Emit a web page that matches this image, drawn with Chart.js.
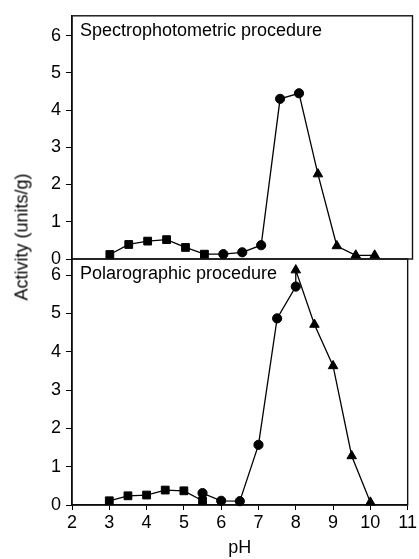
<!DOCTYPE html>
<html lang="en">
<head>
<meta charset="UTF-8">
<title>Activity vs pH</title>
<script src="https://cdn.jsdelivr.net/npm/chart.js"></script>
<style>
  body { margin: 0; background: #fff; }
  #wrap { position: relative; width: 419px; height: 559px; }
  .panel { position: absolute; left: 0; width: 419px; }
  #topPanel { top: 0; height: 285px; }
  #bottomPanel { top: 235px; height: 324px; }
  #ytitle {
    position: absolute; left: 22px; top: 237px;
    transform: translate(-50%, -50%) rotate(-90deg);
    font: 18px "Liberation Sans", Arial, sans-serif; white-space: nowrap; color: #000;
  }
</style>
</head>
<body>
<div id="wrap">
  <div class="panel" id="topPanel"><canvas id="topChart"></canvas></div>
  <div class="panel" id="bottomPanel"><canvas id="bottomChart"></canvas></div>
  <div id="ytitle">Activity (units/g)</div>
</div>

<script>
// spectrophotometric procedure
const specSqPh = [3, 3.5, 4, 4.5, 5, 5.5];
const specSqAct = [0.12, 0.39, 0.48, 0.52, 0.31, 0.13];
const specCirPh = [6, 6.5, 7, 7.5, 8];
const specCirAct = [0.13, 0.18, 0.37, 4.30, 4.45];
const specTriPh = [8.5, 9, 9.5, 10];
const specTriAct = [2.28, 0.35, 0.10, 0.10];

// polarographic procedure
const polSqPh = [3, 3.5, 4, 4.5, 5, 5.5];
const polSqAct = [0.11, 0.24, 0.26, 0.39, 0.37, 0.11];
const polCirPh = [5.5, 6, 6.5, 7, 7.5, 8];
const polCirAct = [0.31, 0.11, 0.10, 1.57, 4.87, 5.70];
const polTriPh = [8, 8.5, 9, 9.5, 10];
const polTriAct = [6.13, 4.71, 3.63, 1.28, 0.07];

const phMin = 2, phMax = 11;

Chart.defaults.font.family = '"Liberation Sans", Arial, sans-serif';
Chart.defaults.font.size = 18;
Chart.defaults.color = '#000';

function pts(xs, ys) {
  return xs.map((x, i) => ({ x: x, y: ys[i] }));
}

// box round the plot + the procedure name inside it
const framePlugin = {
  id: 'frame',
  beforeDatasetsDraw(chart) {
    const a = chart.chartArea, ctx = chart.ctx;
    ctx.save();
    ctx.strokeStyle = '#111';
    ctx.lineWidth = 1.4;
    ctx.strokeRect(a.left, a.top, a.right - a.left, a.bottom - a.top);
    ctx.fillStyle = '#000';
    ctx.font = '18px "Liberation Sans", Arial, sans-serif';
    ctx.textBaseline = 'alphabetic';
    ctx.fillText(chart.options.plugins.frame.text, a.left + 8, a.top + 20);
    ctx.restore();
  }
};

function makePanel(id, label, sq, cir, tri, yMax, pad, showX) {
  const marker = { borderColor: '#000', backgroundColor: '#000', showLine: false, clip: false };
  const config = {
    type: 'scatter',
    data: {
      datasets: [
        Object.assign({ data: pts(sq[0], sq[1]), pointStyle: 'rect', pointRadius: 5.5 }, marker),
        Object.assign({ data: pts(cir[0], cir[1]), pointStyle: 'circle', pointRadius: 4.6 }, marker),
        Object.assign({ data: pts(tri[0], tri[1]), pointStyle: 'triangle', pointRadius: 5.5 }, marker),
        {
          data: pts(sq[0], sq[1]).concat(pts(cir[0], cir[1]), pts(tri[0], tri[1])),
          showLine: true, borderColor: '#000', borderWidth: 1.3, pointRadius: 0, clip: false
        }
      ]
    },
    options: {
      responsive: true,
      maintainAspectRatio: false,
      animation: false,
      layout: { padding: pad },
      plugins: { legend: { display: false }, tooltip: { enabled: false }, frame: { text: label } },
      scales: {
        x: {
          type: 'linear', min: phMin, max: phMax, display: showX,
          ticks: { stepSize: 1, padding: 2, maxRotation: 0 },
          grid: { drawOnChartArea: false, tickLength: 5, color: '#000' },
          border: { color: '#000', width: 1.4 },
          title: { display: true, text: 'pH', padding: { top: 4, bottom: 0 } },
          afterFit: s => { s.height = showX ? 54 : 0; }
        },
        y: {
          min: 0, max: yMax,
          ticks: { stepSize: 1, padding: 5, includeBounds: false },
          grid: { drawOnChartArea: false, tickLength: 6, color: '#000' },
          border: { color: '#000', width: 1.4 },
          afterFit: s => { s.width = 72; }
        }
      }
    },
    plugins: [framePlugin]
  };
  return new Chart(document.getElementById(id), config);
}

makePanel('topChart', 'Spectrophotometric procedure',
  [specSqPh, specSqAct], [specCirPh, specCirAct], [specTriPh, specTriAct],
  6.53, { top: 11, right: 6, bottom: 26, left: 0 }, false);

makePanel('bottomChart', 'Polarographic procedure',
  [polSqPh, polSqAct], [polCirPh, polCirAct], [polTriPh, polTriAct],
  6.42, { top: 24, right: 6, bottom: 0, left: 0 }, true);
</script>
</body>
</html>
